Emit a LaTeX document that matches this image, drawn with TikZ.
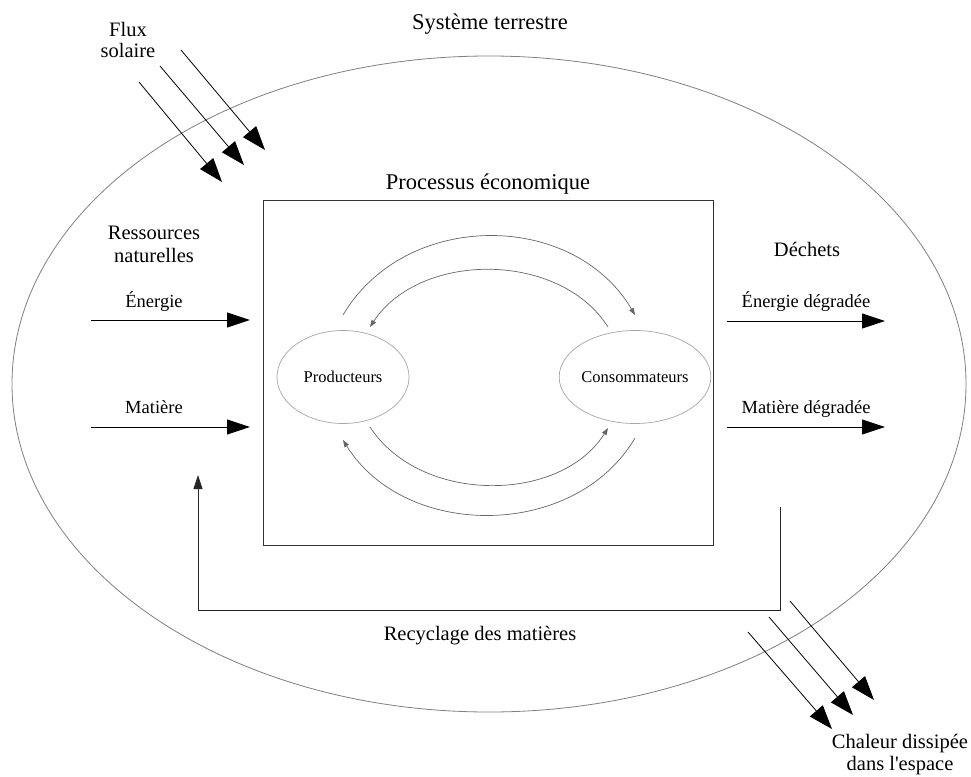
\documentclass[tikz,border=0pt]{standalone}
\usepackage{fontspec}
\setmainfont{Liberation Serif}[Ligatures=TeXOff]
\usetikzlibrary{arrows.meta,shapes.geometric}
\begin{document}
\begin{tikzpicture}[x=1pt,y=-1pt,
  lbl/.style={font=\fontsize{20.5}{22}\selectfont, inner sep=0pt, anchor=base},
  lblbig/.style={lbl, font=\fontsize{22.5}{24}\selectfont},
  lblsm/.style={lbl, font=\fontsize{18.5}{20}\selectfont},
  bigarrow/.style={-{Triangle[length=23pt,width=15pt]}, line width=0.9pt, draw=black},
  diagarrow/.style={-{Triangle[length=24pt,width=17pt]}, line width=0.8pt, draw=black},
  flow/.style={draw=black!60, line width=0.7pt, -{Triangle[length=7pt,width=5pt]}},
  actor/.style={ellipse, draw=black!35, line width=0.7pt, minimum width=132pt, minimum height=93pt, inner sep=0pt, font=\fontsize{16.5}{18}\selectfont},
  recyc/.style={line width=0.9pt, draw=black!85, -{Triangle[length=14pt,width=9pt]}}
]
\useasboundingbox (0,0) rectangle (971,776);
\fill[white] (0,0) rectangle (971,776);

% Earth system
\node[ellipse, draw=black!50, line width=0.8pt, minimum width=954pt, minimum height=656pt, inner sep=0pt] (earth) at (489,384) {};
\node[lblbig] (title) at (490,30) {Système terrestre};

% Economic process box
\node[draw=black!80, line width=1pt, minimum width=450pt, minimum height=345pt, inner sep=0pt] (box) at (488,372.5) {};
\node[lblbig] (proc) at (488,189) {Processus économique};

\node[actor] (prod) at (343,377) {Producteurs};
\node[actor] (cons) at (635,377) {Consommateurs};

% circular flows
\coordinate (t1s) at (343,315); \coordinate (t1e) at (635,315);
\coordinate (t2s) at (608,327); \coordinate (t2e) at (370,327);
\coordinate (b1s) at (370,427); \coordinate (b1e) at (608,428);
\coordinate (b2s) at (635,438); \coordinate (b2e) at (343,440);
\draw[flow] (t1s) .. controls (405,210) and (573,210) .. (t1e);
\draw[flow] (t2s) .. controls (560,251) and (420,251) .. (t2e);
\draw[flow] (b1s) .. controls (420,504) and (560,504) .. (b1e);
\draw[flow] (b2s) .. controls (575,540) and (405,540) .. (b2e);

% Inputs
\node[lbl] (res1) at (154,239) {Ressources};
\node[lbl] (res2) at (154,262) {naturelles};
\node[lblsm] (ener) at (154,307) {Énergie};
\node[lblsm] (mat) at (154,413) {Matière};
\coordinate (ea) at (91,320); \coordinate (eb) at (250,320);
\coordinate (ma) at (91,427); \coordinate (mb) at (250,427);
\draw[bigarrow] (ea) -- (eb);
\draw[bigarrow] (ma) -- (mb);

% Outputs
\node[lbl] (dech) at (807,256) {Déchets};
\node[lblsm] (ened) at (806,307) {Énergie dégradée};
\node[lblsm] (matd) at (806,413) {Matière dégradée};
\coordinate (oea) at (727,321); \coordinate (oeb) at (885,321);
\coordinate (oma) at (727,427); \coordinate (omb) at (885,427);
\draw[bigarrow] (oea) -- (oeb);
\draw[bigarrow] (oma) -- (omb);

% Recycling
\coordinate (r1) at (780,507); \coordinate (r2) at (198,610); \coordinate (r3) at (198,475);
\draw[recyc] (r1) |- (r2) -- (r3);
\node[lbl] (recy) at (480,640) {Recyclage des matières};

% Solar flux
\node[lbl] (flux1) at (128,37) {Flux};
\node[lbl] (flux2) at (128,58) {solaire};
\coordinate (s1a) at (139,82); \coordinate (s1b) at (222,182);
\coordinate (s2a) at (160,66); \coordinate (s2b) at (244,165);
\coordinate (s3a) at (181,50); \coordinate (s3b) at (265,150);
\draw[diagarrow] (s1a) -- (s1b);
\draw[diagarrow] (s2a) -- (s2b);
\draw[diagarrow] (s3a) -- (s3b);

% Heat dissipation
\coordinate (h1a) at (748,632); \coordinate (h1b) at (832,729);
\coordinate (h2a) at (769,617); \coordinate (h2b) at (853,715);
\coordinate (h3a) at (790,601); \coordinate (h3b) at (874,700);
\draw[diagarrow] (h1a) -- (h1b);
\draw[diagarrow] (h2a) -- (h2b);
\draw[diagarrow] (h3a) -- (h3b);
\node[lbl] (heat1) at (900,748) {Chaleur dissipée};
\node[lbl] (heat2) at (900,770) {dans l'espace};
\end{tikzpicture}
\end{document}
